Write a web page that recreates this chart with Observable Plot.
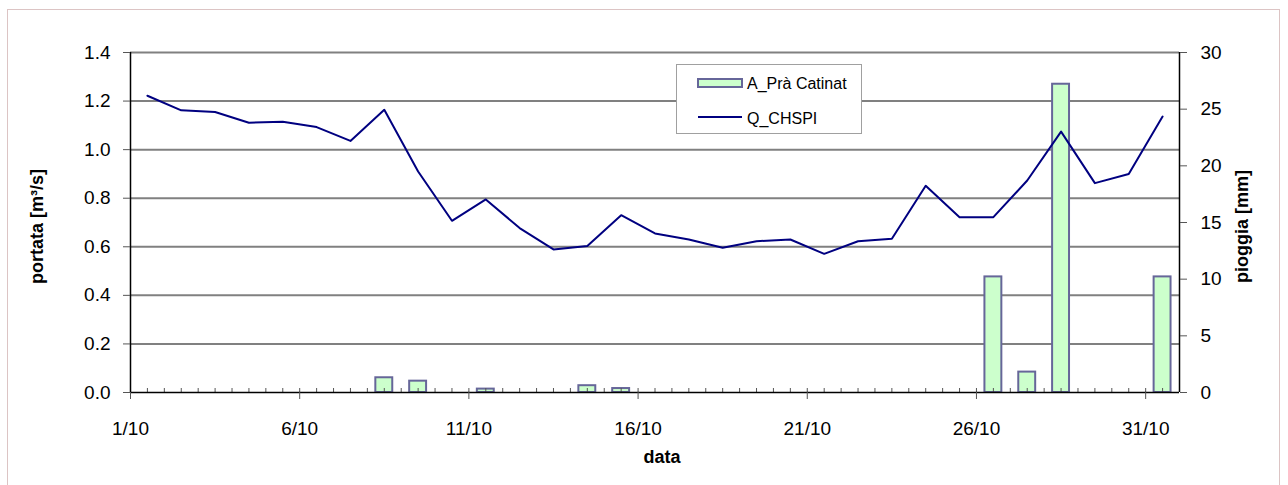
<!DOCTYPE html>
<html>
<head>
<meta charset="utf-8">
<script src="https://cdn.jsdelivr.net/npm/d3@7"></script>
<script src="https://cdn.jsdelivr.net/npm/@observablehq/plot@0.6"></script>
<style>
  html, body { margin: 0; padding: 0; background: #fff; }
  #wrap { position: relative; width: 1288px; height: 485px; overflow: hidden; font-family: "Liberation Sans", Arial, sans-serif; }
  #frame { position: absolute; left: 7px; top: 9px; width: 1273px; height: 490px; border: 1px solid #dcc4c4; box-sizing: border-box; }
  #chart { position: absolute; left: 0; top: 0; }
  #legend { position: absolute; left: 676px; top: 64px; width: 186px; height: 70px; border: 1px solid #a0a0a0; background: #fff; box-sizing: border-box; }
  #legend .lbl { position: absolute; left: 70px; font-size: 16px; line-height: 20px; color: #000; white-space: nowrap; }
</style>
</head>
<body>
<div id="wrap">
  <div id="frame"></div>
  <div id="chart"></div>
  <div id="legend"></div>
</div>
<script>
// ---- data ----
const days = [1,2,3,4,5,6,7,8,9,10,11,12,13,14,15,16,17,18,19,20,21,22,23,24,25,26,27,28,29,30,31];
const portata = [1.222,1.162,1.155,1.111,1.115,1.093,1.036,1.164,0.910,0.707,0.795,0.677,0.589,0.603,0.730,0.655,0.630,0.596,0.623,0.630,0.571,0.623,0.633,0.851,0.722,0.722,0.873,1.074,0.862,0.900,1.136];
const pioggia = [0,0,0,0,0,0,0,1.3,1.0,0,0.3,0,0,0.6,0.35,0,0,0,0,0,0,0,0,0,0,10.2,1.8,27.2,0,0,10.2];
const xTickDays = [1,6,11,16,21,26,31];
const xTickLabels = ["1/10","6/10","11/10","16/10","21/10","26/10","31/10"];
const leftTicks = [0,0.2,0.4,0.6,0.8,1.0,1.2,1.4];
const rightTicks = [0,5,10,15,20,25,30];
const seriesNames = ["A_Prà Catinat", "Q_CHSPI"];
const yLabelLeft = "portata [m³/s]";
const yLabelRight = "pioggia [mm]";
const xLabel = "data";

// ---- build ----
const yMax = 1.4, rMax = 30, k = yMax / rMax;
const flow = days.map((d, i) => ({day: d, q: portata[i]}));
const rain = days.map((d, i) => ({day: d, mm: pioggia[i]})).filter(d => d.mm > 0);
const minor = d3.range(1, 32.01, 0.5);
const xLabelMap = new Map(xTickDays.map((d, i) => [d, xTickLabels[i]]));

const chart = Plot.plot({
  width: 1288, height: 485,
  marginLeft: 130, marginRight: 109, marginTop: 52, marginBottom: 93,
  x: {type: "linear", domain: [1, 32]},
  y: {type: "linear", domain: [0, yMax]},
  style: {fontFamily: "'Liberation Sans', Arial, sans-serif", fontSize: "19px", color: "#000", background: "transparent", overflow: "visible"},
  marks: [
    Plot.gridY(leftTicks.filter(v => v > 0), {stroke: "#808080", strokeOpacity: 1, strokeWidth: 2}),
    Plot.rectY(rain, {x1: d => d.day + 0.25, x2: d => d.day + 0.75, y1: 0, y2: d => d.mm * k, fill: "#ccffcc", stroke: "#666699", strokeWidth: 2}),
    Plot.line(flow, {x: d => d.day + 0.5, y: "q", stroke: "#000080", strokeWidth: 2}),
    Plot.ruleX(minor, {x: d => d, y1: 0, y2: 0, insetTop: -4, stroke: "#555", strokeWidth: 1}),
    Plot.ruleY([0], {stroke: "#000", strokeWidth: 1.5}),
    Plot.ruleX([1, 32], {stroke: "#000", strokeWidth: 1.5}),
    Plot.axisX(xTickDays, {anchor: "bottom", tickSize: 7, tickPadding: 22, tickFormat: d => xLabelMap.get(d), label: null, stroke: "#555"}),
    Plot.axisY(leftTicks, {anchor: "left", tickSize: 7, tickPadding: 13, tickFormat: d => d.toFixed(1), label: null, stroke: "#555"}),
    Plot.axisY(rightTicks.map(v => v * k), {anchor: "right", tickSize: 7, tickPadding: 14, tickFormat: d => String(Math.round(d / k)), label: null, stroke: "#555"}),
    Plot.text([yLabelLeft], {frameAnchor: "left", textAnchor: "middle", dx: -93, dy: 4, rotate: -90, fontWeight: "bold", fontSize: 18, text: d => d}),
    Plot.text([yLabelRight], {frameAnchor: "right", textAnchor: "middle", dx: 63, dy: 4, rotate: -90, fontWeight: "bold", fontSize: 18, text: d => d}),
    Plot.text([xLabel], {frameAnchor: "bottom", textAnchor: "middle", dx: 7, dy: 70, fontWeight: "bold", fontSize: 18, text: d => d})
  ]
});
document.getElementById("chart").appendChild(chart);

// ---- legend ----
const legend = document.getElementById("legend");
legend.innerHTML = `
  <svg width="186" height="70" style="position:absolute;left:-1px;top:-1px">
    <rect x="22" y="15" width="44" height="8" fill="#ccffcc" stroke="#666699" stroke-width="2"></rect>
    <line x1="22" x2="66" y1="53" y2="53" stroke="#000080" stroke-width="2"></line>
  </svg>
  <div class="lbl" style="top:9px">${seriesNames[0]}</div>
  <div class="lbl" style="top:44px">${seriesNames[1]}</div>`;
</script>
</body>
</html>
